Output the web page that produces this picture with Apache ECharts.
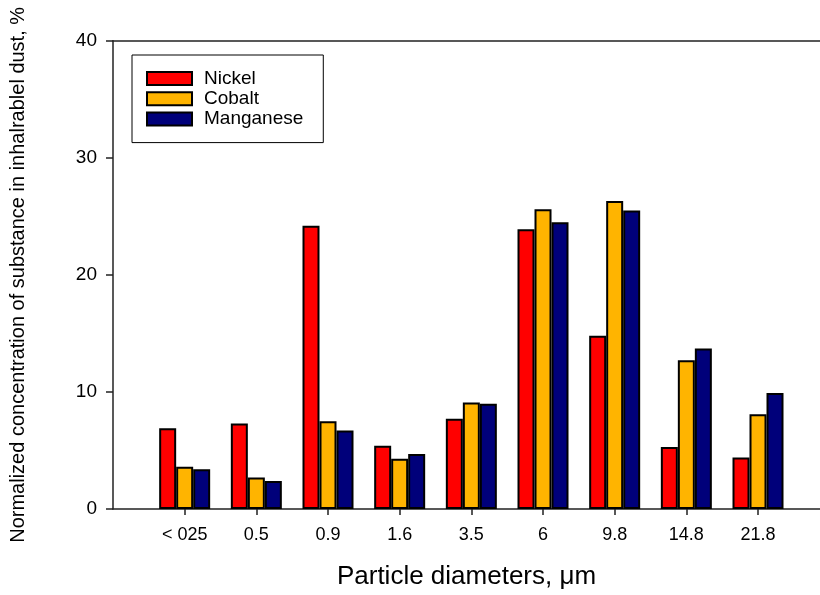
<!DOCTYPE html>
<html>
<head>
<meta charset="utf-8">
<script src="https://cdn.jsdelivr.net/npm/echarts@6/dist/echarts.min.js"></script>
<style>
  html, body { margin: 0; padding: 0; background: #fff; }
  #chart { width: 820px; height: 595px; }
</style>
</head>
<body>
<div id="chart"></div>
<script>
// Particle size classes (µm) and the share of each metal found in them, %
const categories = ['< 025', '0.5', '0.9', '1.6', '3.5', '6', '9.8', '14.8', '21.8'];
const nickel    = [6.9, 7.3, 24.2, 5.4, 7.7, 23.9, 14.8, 5.3, 4.4];
const cobalt    = [3.6, 2.7, 7.5, 4.3, 9.1, 25.6, 26.3, 12.7, 8.1];
const manganese = [3.4, 2.4, 6.7, 4.7, 9.0, 24.5, 25.5, 13.7, 9.9];
const yTicks    = [0, 10, 20, 30, 40];

const seriesNames  = ['Nickel', 'Cobalt', 'Manganese'];
const seriesValues = [nickel, cobalt, manganese];
const seriesColors = ['#ff0000', '#ffb400', '#00007a'];

// Each size class sits at position 1..9 on a numeric x scale;
// the frame runs on past the right edge of the canvas.
const positions = categories.map((_, i) => i + 1);
const X_MAX = 9.865;
const FONT = 'Liberation Sans, Arial, sans-serif';
const AXIS_LINE = { color: '#222', width: 1.5 };

const chart = echarts.init(document.getElementById('chart'), null, { renderer: 'canvas' });

chart.setOption({
  animation: false,
  backgroundColor: '#fff',
  grid: { left: 112.7, top: 40.7, right: 0, bottom: 85 },
  legend: {
    orient: 'vertical',
    left: 132, top: 55,
    padding: [14, 20, 14, 14],
    icon: 'rect',
    itemWidth: 45, itemHeight: 13, itemGap: 1.3,
    backgroundColor: '#fff',
    borderColor: '#000', borderWidth: 1,
    textStyle: { fontFamily: FONT, fontSize: 19, color: '#000', padding: [0, 0, 0, 7] },
    data: seriesNames
  },
  xAxis: [{
    type: 'value',
    min: 0, max: X_MAX, interval: 1,
    name: 'Particle diameters, \u03bcm',
    nameLocation: 'middle',
    nameGap: 55,
    nameTextStyle: { fontFamily: FONT, fontSize: 26, color: '#000' },
    axisLine: { show: true, lineStyle: AXIS_LINE },
    axisTick: { show: true, inside: false, length: 6, customValues: positions, lineStyle: AXIS_LINE },
    axisLabel: {
      customValues: positions,
      margin: 17,
      fontFamily: FONT, fontSize: 18, color: '#000',
      formatter: v => categories[Math.round(v) - 1] || ''
    },
    splitLine: { show: false }
  }, {
    // top edge of the frame
    type: 'value',
    position: 'top',
    min: 0, max: X_MAX,
    axisLine: { show: true, onZero: false, lineStyle: AXIS_LINE },
    axisTick: { show: false },
    axisLabel: { show: false },
    splitLine: { show: false }
  }],
  yAxis: {
    type: 'value',
    min: yTicks[0], max: yTicks[yTicks.length - 1], interval: 10,
    name: 'Normalized concentration of substance in inhalrablel dust, %',
    nameLocation: 'middle',
    nameGap: 85,
    nameTextStyle: { fontFamily: FONT, fontSize: 20, color: '#000' },
    axisLine: { show: true, lineStyle: AXIS_LINE },
    axisTick: { show: true, inside: false, length: 7, lineStyle: AXIS_LINE },
    axisLabel: { margin: 16, fontFamily: FONT, fontSize: 19, color: '#000' },
    splitLine: { show: false }
  },
  series: seriesNames.map((name, k) => ({
    name,
    type: 'bar',
    xAxisIndex: 0,
    barWidth: 17,
    barGap: '0%',
    itemStyle: { color: seriesColors[k], borderColor: '#000', borderWidth: 2 },
    data: seriesValues[k].map((v, i) => [positions[i], v])
  }))
});
</script>
</body>
</html>
